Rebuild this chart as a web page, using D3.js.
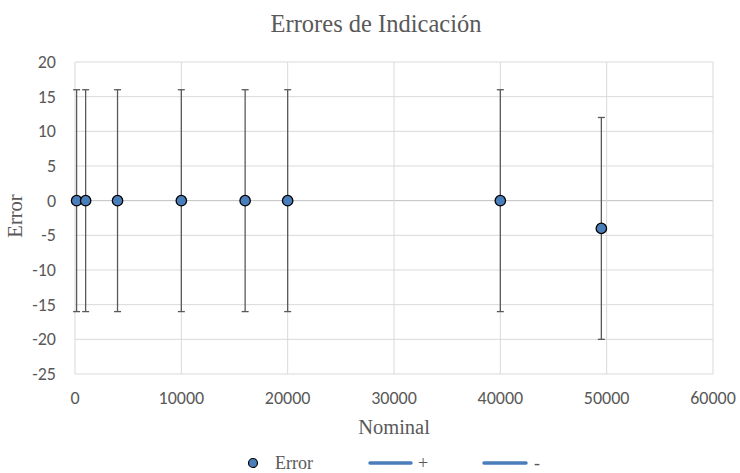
<!DOCTYPE html>
<html><head><meta charset="utf-8">
<script src="https://cdn.jsdelivr.net/npm/d3@7"></script>
<style>body{margin:0;background:#fff}</style>
</head><body>
<svg id="c" width="740" height="473"></svg>
<script>
const nominal = [150, 1000, 4000, 10000, 16000, 20000, 40000, 49500];
const errorVals = [0, 0, 0, 0, 0, 0, 0, -4];
const errPlus = [16, 16, 16, 16, 16, 16, 16, 16];
const errMinus = [16, 16, 16, 16, 16, 16, 16, 16];
const xTicks = [0, 10000, 20000, 30000, 40000, 50000, 60000];
const yTicks = [20, 15, 10, 5, 0, -5, -10, -15, -20, -25];
const legendLabels = ["Error", "+", "-"];

const svg = d3.select("#c");
const m = {l: 75, r: 27, t: 62, b: 99};
const W = 740, H = 473;
const x = d3.scaleLinear().domain([0, 60000]).range([m.l, W - m.r]);
const y = d3.scaleLinear().domain([-25, 20]).range([H - m.b, m.t]);
const blue = "#4a7ebb";
const serif = "'Liberation Serif','Times New Roman',serif";
const sans = "Carlito,'Liberation Sans',Arial,sans-serif";

// gridlines
svg.append("g").selectAll("line").data(yTicks).join("line")
  .attr("x1", x(0)).attr("x2", x(60000))
  .attr("y1", d => y(d)).attr("y2", d => y(d))
  .attr("stroke", d => d === 0 ? "#bfbfbf" : "#d9d9d9").attr("stroke-width", 1);
svg.append("g").selectAll("line").data(xTicks).join("line")
  .attr("x1", d => x(d)).attr("x2", d => x(d))
  .attr("y1", y(20)).attr("y2", y(-25))
  .attr("stroke", "#d9d9d9").attr("stroke-width", 1);

// tick labels
svg.append("g").selectAll("text").data(yTicks).join("text")
  .attr("x", 56).attr("y", d => y(d)).attr("dy", "0.33em")
  .attr("text-anchor", "end").attr("fill", "#595959")
  .attr("font-family", sans).attr("font-size", 18).text(d => d);
svg.append("g").selectAll("text").data(xTicks).join("text")
  .attr("x", d => x(d)).attr("y", 404)
  .attr("text-anchor", "middle").attr("fill", "#595959")
  .attr("font-family", sans).attr("font-size", 18).text(d => d);

// axis titles
svg.append("text").attr("x", 376).attr("y", 32).attr("text-anchor", "middle")
  .attr("fill", "#595959").attr("font-family", serif).attr("font-size", 24.5).text("Errores de Indicación");
svg.append("text").attr("x", x(30000)).attr("y", 434).attr("text-anchor", "middle")
  .attr("fill", "#595959").attr("font-family", serif).attr("font-size", 20.5).text("Nominal");
svg.append("text").attr("transform", `translate(22,216) rotate(-90)`).attr("text-anchor", "middle")
  .attr("fill", "#595959").attr("font-family", serif).attr("font-size", 20.5).text("Error");

// error bars
const data = nominal.map((n, i) => ({n, e: errorVals[i], p: errPlus[i], mi: errMinus[i]}));
const eb = svg.append("g").attr("stroke", "#595959").attr("stroke-width", 1.3);
eb.selectAll(".v").data(data).join("line")
  .attr("x1", d => x(d.n)).attr("x2", d => x(d.n))
  .attr("y1", d => y(d.e + d.p)).attr("y2", d => y(d.e - d.mi));
eb.selectAll(".t").data(data).join("line")
  .attr("x1", d => x(d.n) - 3.5).attr("x2", d => x(d.n) + 3.5)
  .attr("y1", d => y(d.e + d.p)).attr("y2", d => y(d.e + d.p));
eb.selectAll(".b").data(data).join("line")
  .attr("x1", d => x(d.n) - 3.5).attr("x2", d => x(d.n) + 3.5)
  .attr("y1", d => y(d.e - d.mi)).attr("y2", d => y(d.e - d.mi));

// markers
svg.append("g").selectAll("circle").data(data).join("circle")
  .attr("cx", d => x(d.n)).attr("cy", d => y(d.e)).attr("r", 5.2)
  .attr("fill", blue).attr("stroke", "#000").attr("stroke-width", 1.3);

// legend
const lg = svg.append("g");
lg.append("circle").attr("cx", 253).attr("cy", 463).attr("r", 4.5)
  .attr("fill", blue).attr("stroke", "#000").attr("stroke-width", 1.2);
lg.append("text").attr("x", 275).attr("y", 469).attr("fill", "#595959")
  .attr("font-family", serif).attr("font-size", 18).text(legendLabels[0]);
lg.append("line").attr("x1", 370).attr("x2", 411).attr("y1", 463).attr("y2", 463)
  .attr("stroke", blue).attr("stroke-width", 3.5).attr("stroke-linecap", "round");
lg.append("text").attr("x", 418).attr("y", 469).attr("fill", "#595959")
  .attr("font-family", serif).attr("font-size", 18).text(legendLabels[1]);
lg.append("line").attr("x1", 484).attr("x2", 526).attr("y1", 463).attr("y2", 463)
  .attr("stroke", blue).attr("stroke-width", 3.5).attr("stroke-linecap", "round");
lg.append("text").attr("x", 534).attr("y", 469).attr("fill", "#595959")
  .attr("font-family", serif).attr("font-size", 18).text(legendLabels[2]);
</script>
</body></html>
